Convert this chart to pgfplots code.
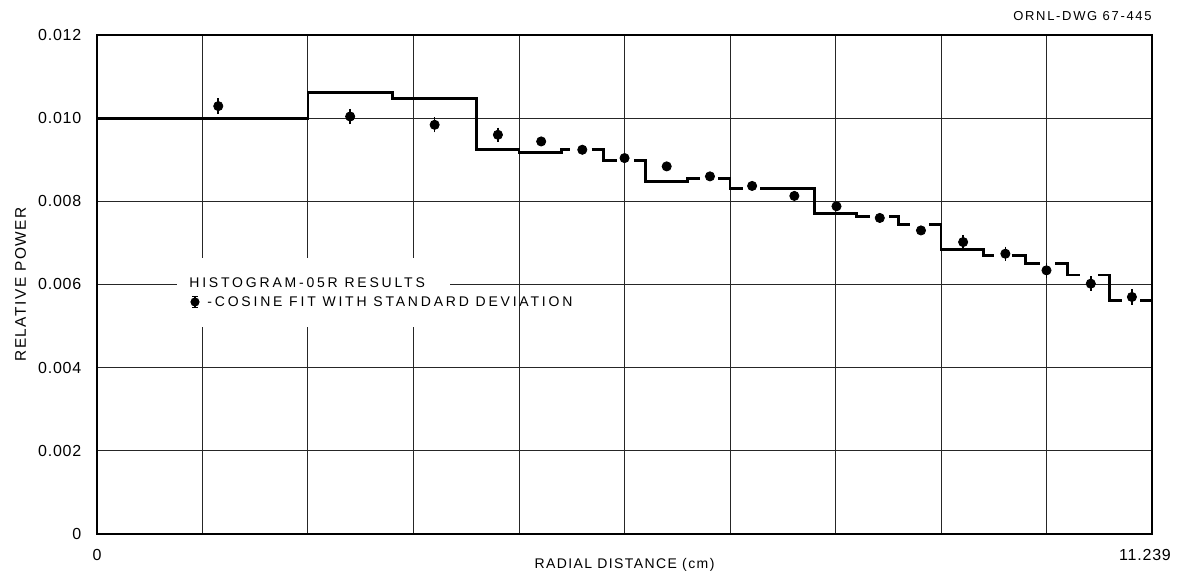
\documentclass[border=0pt]{standalone}
\usepackage{fontspec}
\setmainfont{Liberation Sans}
\newfontfamily\tickf[LetterSpace=5]{Liberation Sans}
\newfontfamily\labf[LetterSpace=10]{Liberation Sans}
\newfontfamily\legf[LetterSpace=20]{Liberation Sans}
\newfontfamily\titf[LetterSpace=13]{Liberation Sans}
\usepackage{pgfplots}
\pgfplotsset{compat=1.18}
\begin{document}
\begin{tikzpicture}
\path[use as bounding box] (-48.5pt,-23.5pt) rectangle (543.5pt,267pt);
\begin{axis}[
  at={(0,0)}, anchor=south west, scale only axis,
  width=527.5pt, height=249.5pt,
  xmin=0, xmax=11.239, ymin=0, ymax=0.012,
  clip=false,
  xtick={0,1.1239,2.2478,3.3717,4.4956,5.6195,6.7434,7.8673,8.9912,10.1151,11.239},
  xticklabels={0,,,,,,,,,,{\hspace*{-7pt}11.239}},
  ytick={0,0.002,0.004,0.006,0.008,0.010,0.012},
  yticklabels={0,0.002,0.004,0.006,0.008,0.010,0.012},
  scaled y ticks=false, scaled x ticks=false,
  grid=major, major grid style={black!85, line width=0.5pt},
  major tick length=0pt, tick style={draw=none},
  axis line style={line width=0.75pt},
  ticklabel style={font=\tickf\fontsize{8}{9}\selectfont},
  yticklabel style={xshift=-4.3pt},
  xticklabel style={yshift=-4.3pt},
  xlabel={RADIAL DISTANCE (cm)},
  xlabel style={at={([yshift=-15.5pt]axis description cs:0.5,0)}, anchor=center, font=\labf\fontsize{7}{8}\selectfont},
  ylabel={RELATIVE POWER},
  ylabel style={at={([xshift=-38.25pt]axis description cs:0,0.5)}, anchor=center, font=\labf\fontsize{7.7}{8}\selectfont},
]
% HISTOGRAM-05R results (step line, broken near the fitted points)
\addplot[black, line width=1.4pt, unbounded coords=jump, line join=miter] coordinates {
(0,0.0100) (2.2478,0.0100) (2.2478,0.01061) (3.1469,0.01061) (3.1469,0.01048) (4.0460,0.01048)
(4.0460,0.00924) (4.4956,0.00924) (4.4956,0.00917) (4.9452,0.00917) (4.9452,0.00924) (5.0389,0.00924)
(5.15,nan)
(5.2701,0.00924) (5.3947,0.00924) (5.3947,0.00898) (5.5364,0.00898)
(5.63,nan)
(5.7207,0.00898) (5.8443,0.00898) (5.8443,0.00848) (6.2938,0.00848) (6.2938,0.00854) (6.4238,0.00854)
(6.52,nan)
(6.6156,0.00854) (6.7434,0.00854) (6.7434,0.00831) (6.8787,0.00831)
(6.97,nan)
(7.0630,0.00831) (7.6425,0.00831) (7.6425,0.00770) (8.0921,0.00770) (8.0921,0.00764) (8.2348,0.00764)
(8.34,nan)
(8.4404,0.00764) (8.5416,0.00764) (8.5416,0.00745) (8.6610,0.00745)
(8.76,nan)
(8.8666,0.00745) (8.9912,0.00745) (8.9912,0.00684) (9.4408,0.00684) (9.4408,0.00670) (9.5558,0.00670)
(9.65,nan)
(9.7444,0.00670) (9.8903,0.00670) (9.8903,0.00650) (10.0459,0.00650)
(10.12,nan)
(10.2057,0.00650) (10.3399,0.00650) (10.3399,0.00623) (10.4720,0.00623)
(10.57,nan)
(10.6670,0.00623) (10.7894,0.00623) (10.7894,0.00562) (10.9163,0.00562)
(11.01,nan)
(11.1112,0.00562) (11.239,0.00562) (11.239,0)
};
% Cosine fit with standard deviation
\addplot[black, only marks, mark=*, mark size=2.3pt,
  error bars/.cd, y dir=both, y explicit,
  error bar style={line width=0.8pt},
  error mark options={line width=0.8pt, mark size=1.3pt}]
coordinates {
(1.292,0.01029) +- (0,0.00013)
(2.697,0.01004) +- (0,0.00012)
(3.597,0.00984) +- (0,0.00012)
(4.271,0.00960) +- (0,0.00011)
(4.732,0.00944) +- (0,0)
(5.170,0.00924) +- (0,0)
(5.620,0.00904) +- (0,0)
(6.069,0.00884) +- (0,0)
(6.530,0.00860) +- (0,0)
(6.979,0.00837) +- (0,0)
(7.429,0.00813) +- (0,0)
(7.878,0.00788) +- (0,0)
(8.339,0.00760) +- (0,0)
(8.778,0.00730) +- (0,0)
(9.227,0.00702) +- (0,0.00011)
(9.677,0.00674) +- (0,0.00011)
(10.115,0.00634) +- (0,0.00012)
(10.587,0.00602) +- (0,0.00011)
(11.025,0.00570) +- (0,0.00013)
};
\end{axis}
% legend
\fill[white] (40pt,103.5pt) rectangle (176.5pt,138pt);
\node[anchor=base west, inner sep=0pt, font=\legf\fontsize{7}{8}\selectfont] at (46pt,123.35pt) {HISTOGRAM-05R RESULTS};
\node[anchor=base west, inner sep=0pt, font=\legf\fontsize{7}{8}\selectfont] at (55pt,113.5pt) {-COSINE FIT WITH STANDARD DEVIATION};
\draw[line width=0.8pt] (49pt,113.3pt)--(49pt,118.7pt) (47.7pt,113.3pt)--(50.3pt,113.3pt) (47.7pt,118.7pt)--(50.3pt,118.7pt);
\fill (49pt,116pt) circle (2.3pt);
% drawing number
\node[anchor=base east, inner sep=0pt, font=\titf\fontsize{6.5}{7}\selectfont] at (527.5pt,256.65pt) {ORNL-DWG 67-445};
\end{tikzpicture}
\end{document}
